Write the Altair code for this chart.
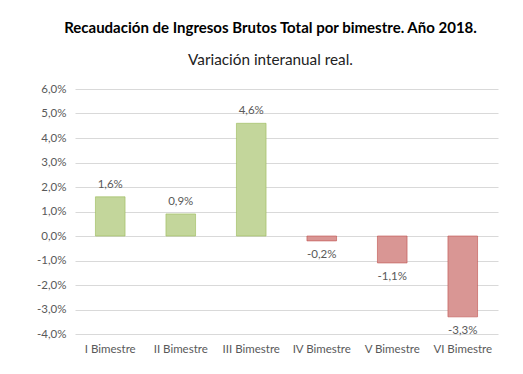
import altair as alt
import pandas as pd

categories = ["I Bimestre", "II Bimestre", "III Bimestre", "IV Bimestre", "V Bimestre", "VI Bimestre"]
values = [1.6, 0.9, 4.6, -0.2, -1.1, -3.3]
y_ticks = [-4, -3, -2, -1, 0, 1, 2, 3, 4, 5, 6]

df = pd.DataFrame({"cat": categories, "v": values})
df["sign"] = ["pos" if v >= 0 else "neg" for v in values]

FONT = "Lato"
GREY = "#595959"
fmt = "replace(replace(format(datum.v, '.1f'), '.', ','), '\u2212', '-') + '%'"

x = alt.X("cat:N", sort=categories, title=None,
          scale=alt.Scale(paddingInner=0.58, paddingOuter=0.29),
          axis=alt.Axis(labelAngle=0, domain=False, ticks=False, labelPadding=9,
                        labelFont=FONT, labelFontSize=11.5, labelColor=GREY, grid=False))
y = alt.Y("v:Q", title=None,
          scale=alt.Scale(domain=[-4, 6], nice=False),
          axis=alt.Axis(values=y_ticks, domain=False, ticks=False, labelPadding=9,
                        labelOverlap=False,
                        labelExpr="replace(replace(format(datum.value, '.1f'), '.', ','), '\u2212', '-') + '%'",
                        labelFont=FONT, labelFontSize=11.5, labelColor=GREY,
                        gridColor="#D9D9D9", gridWidth=1))

base = alt.Chart(df)

bars = base.mark_bar(strokeWidth=1, strokeOpacity=0.6).encode(
    x=x, y=y,
    color=alt.Color("sign:N", scale=alt.Scale(domain=["pos", "neg"], range=["#C3D69B", "#D99694"]), legend=None),
    stroke=alt.Stroke("sign:N", scale=alt.Scale(domain=["pos", "neg"], range=["#9BBB59", "#C0504D"]), legend=None),
)

pos_labels = base.transform_filter("datum.v >= 0").transform_calculate(lbl=fmt).mark_text(
    dy=-12, baseline="middle", font=FONT, fontSize=11.5, color=GREY
).encode(x=x, y=y, text="lbl:N")

neg_labels = base.transform_filter("datum.v < 0").transform_calculate(lbl=fmt).mark_text(
    dy=14, baseline="middle", font=FONT, fontSize=11.5, color=GREY
).encode(x=x, y=y, text="lbl:N")

chart = alt.layer(bars, pos_labels, neg_labels).properties(
    width=423, height=245,
    autosize=alt.AutoSizeParams(type="none"),
    padding={"left": 67, "top": 81, "right": 17, "bottom": 30},
    background="white",
    title=alt.TitleParams(
        text="Recaudación de Ingresos Brutos Total por bimestre. Año 2018.",
        subtitle="Variación interanual real.",
        font=FONT, fontSize=15, fontWeight="bold", color="#000000",
        subtitleFont=FONT, subtitleFontSize=15.3, subtitleColor="#222222",
        subtitlePadding=17, offset=15, anchor="middle", dx=-16,
    ),
).configure_view(stroke=None)

chart.save("out.html", embed_options={"renderer": "svg", "actions": False})
